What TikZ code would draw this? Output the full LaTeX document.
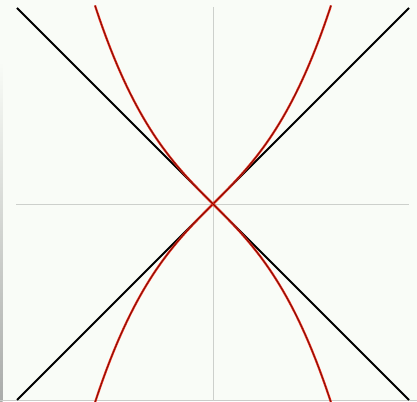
\documentclass[tikz,border=0pt]{standalone}
\definecolor{bgc}{RGB}{249,252,247}
\definecolor{axisc}{RGB}{205,208,204}
\definecolor{redc}{RGB}{235,40,25}
\definecolor{redcore}{RGB}{110,15,8}
\definecolor{edgec}{RGB}{170,172,170}
\tikzset{
  axisline/.style={draw=axisc, line width=0.9pt},
  asymptote/.style={draw=black, line width=2pt},
  redouter/.style={draw=redc, line width=2.2pt},
  redinner/.style={draw=redcore, line width=0.7pt},
}
\begin{document}
\begin{tikzpicture}[x=1pt,y=1pt]
\useasboundingbox (0,0) rectangle (417,401);
\fill[bgc] (0,0) rectangle (417,401);
% edge shading
\shade[top color=bgc, bottom color=edgec] (0,0) rectangle (2.5,340);
\fill[edgec!60!bgc] (0,0) rectangle (417,1);
% centre and axes
\coordinate (O) at (213,197);
\coordinate (atop) at (213,394);
\coordinate (abot) at (213,0);
\coordinate (aleft) at (16,197);
\coordinate (aright) at (409,197);
\draw[axisline] (atop) -- (abot);
\draw[axisline] (aleft) -- (aright);
% asymptote lines
\coordinate (tl) at (17,393);
\coordinate (br) at (409,1);
\coordinate (tr) at (409,393);
\coordinate (bl) at (17,1);
\draw[asymptote] (tl) -- (br);
\draw[asymptote] (tr) -- (bl);
% red curves
\foreach \s in {1,-1}{
  \draw[redouter] plot[domain=-118:118, samples=120, smooth]
    ({213+\x}, {197 + \s*(\x + 49*(\x/100)^3)});
  \draw[redinner] plot[domain=-118:118, samples=120, smooth]
    ({213+\x}, {197 + \s*(\x + 49*(\x/100)^3)});
}
\end{tikzpicture}
\end{document}
